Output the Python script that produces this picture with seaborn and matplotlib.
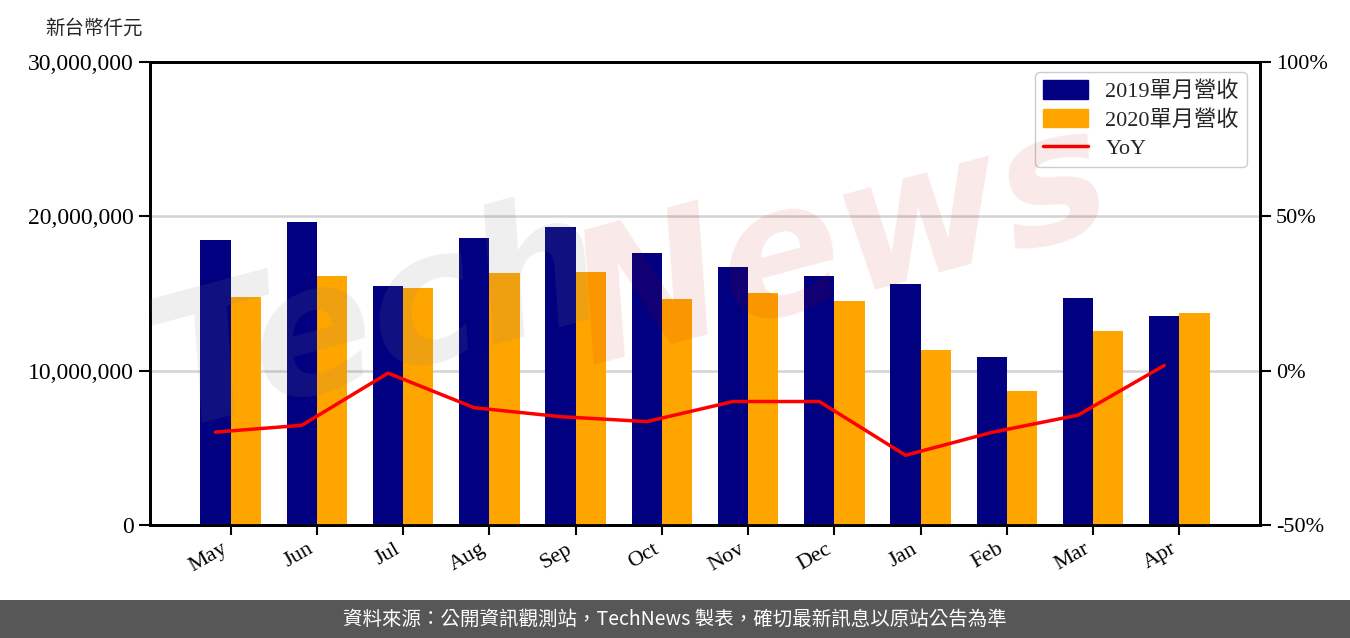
import numpy as np
import pandas as pd
import matplotlib
matplotlib.use("Agg")
import matplotlib.pyplot as plt
import seaborn as sns
from matplotlib.patches import Patch, Rectangle
from matplotlib.lines import Line2D
from matplotlib.ticker import FuncFormatter

months = ["May", "Jun", "Jul", "Aug", "Sep", "Oct", "Nov", "Dec", "Jan", "Feb", "Mar", "Apr"]
rev_2019 = [18470000, 19630000, 15490000, 18600000, 19310000, 17630000,
            16720000, 16140000, 15620000, 10890000, 14710000, 13540000]
rev_2020 = [14770000, 16140000, 15360000, 16330000, 16400000, 14650000,
            15040000, 14520000, 11340000, 8680000, 12570000, 13740000]
yoy_pct = [-19.9, -17.7, -0.8, -12.0, -14.9, -16.5, -10.0, -10.0, -27.4, -20.0, -14.4, 1.7]
series_names = ["2019單月營收", "2020單月營收"]
yoy_name = "YoY"
unit_label = "新台幣仟元"
footer_text = "資料來源：公開資訊觀測站，TechNews 製表，確切最新訊息以原站公告為準"

sns.set_theme(style="white")
plt.rcParams["font.family"] = ["Liberation Serif", "Noto Sans CJK TC", "DejaVu Sans"]
plt.rcParams["axes.unicode_minus"] = False

df = pd.DataFrame({
    "month": months * 2,
    "revenue": rev_2019 + rev_2020,
    "series": [series_names[0]] * len(months) + [series_names[1]] * len(months),
})

fig = plt.figure(figsize=(13.5, 6.38), dpi=100)
ax = fig.add_axes([150 / 1350, 1 - 525 / 638, 1110 / 1350, 463 / 638])

sns.barplot(data=df, x="month", y="revenue", hue="series", order=months,
            hue_order=series_names, palette=["#000080", "#FFA500"],
            width=0.7, saturation=1, ax=ax, legend=False, errorbar=None,
            linewidth=0, edgecolor="none")
ax.set_xlim(-0.935, len(months) - 1 + 0.935)
ax.set_ylim(0, 30000000)
ax.set_yticks([0, 10000000, 20000000, 30000000])
ax.yaxis.set_major_formatter(FuncFormatter(lambda v, p: f"{int(v):,}"))
ax.set_xlabel("")
ax.set_ylabel("")
ax.tick_params(axis="y", labelsize=17, length=8, width=1.5, direction="out", left=True, colors="black")
ax.tick_params(axis="x", labelsize=16, length=7, width=1.5, direction="out", bottom=True, colors="black")
for lbl in ax.get_xticklabels():
    lbl.set_rotation(30)
    lbl.set_ha("right")
for sp in ax.spines.values():
    sp.set_color("black")
    sp.set_linewidth(2)

ax2 = ax.twinx()
xpos = np.arange(len(months)) - 0.175
yoy_df = pd.DataFrame({"x": xpos, "yoy": yoy_pct})
sns.lineplot(data=yoy_df, x="x", y="yoy", color="#FF0000", lw=2.5, ax=ax2)
ax2.set_ylim(-50, 100)
ax2.set_yticks([-50, 0, 50, 100])
ax2.yaxis.set_major_formatter(FuncFormatter(lambda v, p: f"{int(v)}%"))
ax2.set_xlabel("")
ax2.set_ylabel("")
ax2.tick_params(axis="y", labelsize=16, length=8, width=1.5, direction="out", right=True, colors="black")
ax2.grid(True, axis="y", color="#d3d3d3", lw=1.8)
ax2.set_axisbelow(True)
ax.set_zorder(1)
ax.patch.set_visible(False)
ax2.set_zorder(0)
for sp in ax2.spines.values():
    sp.set_color("black")
    sp.set_linewidth(2)
line = ax2.lines[0]
line.remove()
ax.plot(line.get_xdata(), line.get_ydata(), color="#FF0000", lw=2.5,
        transform=ax2.transData, zorder=5)

handles = [Patch(color="#000080"), Patch(color="#FFA500"), Line2D([0], [0], color="#FF0000", lw=2.5)]
leg = ax.legend(handles, series_names + [yoy_name], loc="upper right", fontsize=16,
                frameon=True, fancybox=True, framealpha=1, edgecolor="#cccccc",
                handlelength=2.0, handleheight=0.9, borderpad=0.35, labelspacing=0.3,
                bbox_to_anchor=(0.998, 1.0016))
leg.set_zorder(10)

fig.text(45 / 1350, 1 - 28 / 638, unit_label, fontsize=14, ha="left", va="center")

# watermark
fig.text(0.10, 0.27, "Tech", fontsize=130, fontstyle="italic", fontweight="bold",
         color="#808080", alpha=0.13, rotation=15, ha="left", va="bottom",
         family="DejaVu Sans", zorder=20)
fig.text(0.41, 0.37, "News", fontsize=130, fontstyle="italic", fontweight="bold",
         color="#c30000", alpha=0.09, rotation=15, ha="left", va="bottom",
         family="DejaVu Sans", zorder=20)

fig.patches.append(Rectangle((0, 0), 1, 38 / 638, transform=fig.transFigure,
                             facecolor="#575757", edgecolor="none", zorder=0))
fig.text(0.5, 19 / 638, footer_text, fontsize=14, color="white", ha="center", va="center",
         family=["Noto Sans CJK TC", "DejaVu Sans"])

fig.savefig("out.png", dpi=100)
